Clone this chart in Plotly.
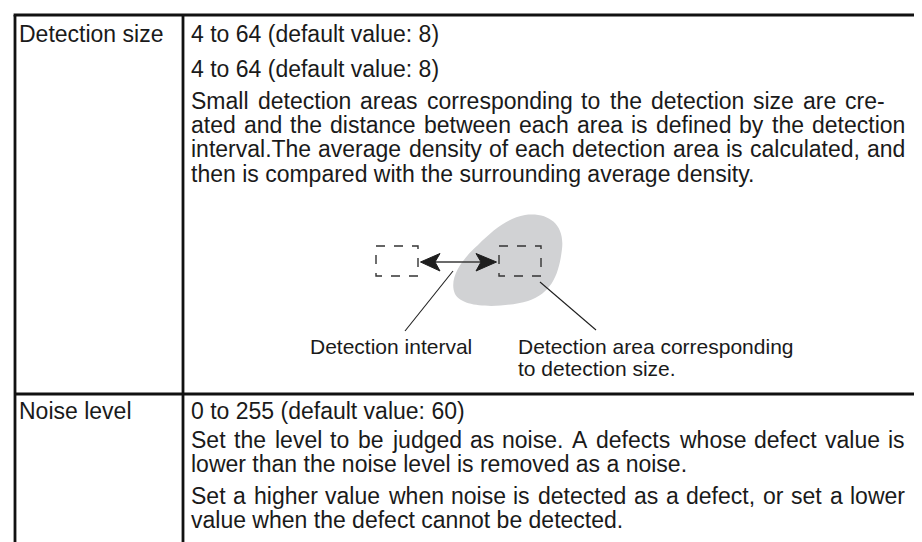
import plotly.graph_objects as go

# ---- table content (text data) ----
param_names = ["Detection size", "Noise level"]
detection_lines = [
    "4 to 64 (default value: 8)",
    "4 to 64 (default value: 8)",
    "Small detection areas corresponding to the detection size are cre-",
    "ated and the distance between each area is defined by the detection",
    "interval.The average density of each detection area is calculated, and",
    "then is compared with the surrounding average density.",
]
noise_lines = [
    "0 to 255 (default value: 60)",
    "Set the level to be judged as noise. A defects whose defect value is",
    "lower than the noise level is removed as a noise.",
    "Set a higher value when noise is detected as a defect, or set a lower",
    "value when the defect cannot be detected.",
]
caption_interval = ["Detection interval"]
caption_area = ["Detection area corresponding", "to detection size."]

# ---- layout geometry (pixels in a 922x542 canvas, y downward) ----
W, H = 922, 542
FONT = "Liberation Sans, Arial, Helvetica, sans-serif"
TXT = "#1a1a1a"
MAIN_SIZE = 23
CAP_SIZE = 21

left_x, right_x, top_y = 7, 912, 7
div_x, row_div_y = 175, 386
col1_text_x, col2_text_x = 10, 182

det_label_y = 26
det_line_y = [26, 61, 93, 117, 141, 166]
noise_label_y = 403
noise_line_y = [403, 432, 456, 488, 512]
# justified lines: index -> right edge of the justified text block
det_justify = {2: 876, 3: 896, 4: 896}
noise_justify = {1: 896, 3: 896}

# Arial / Liberation Sans advance widths (1/1000 em)
ADV = {' ': 278, '.': 278, ',': 278, ':': 278, '-': 333, '(': 333, ')': 333}
ADV.update({d: 556 for d in "0123456789"})
ADV.update(dict(zip("ABCDEFGHIJKLMNOPQRSTUVWXYZ",
                    [667, 667, 722, 722, 667, 611, 778, 722, 278, 500, 667, 556, 833,
                     722, 778, 667, 778, 722, 667, 611, 722, 667, 944, 667, 667, 611])))
ADV.update(dict(zip("abcdefghijklmnopqrstuvwxyz",
                    [556, 556, 500, 556, 556, 278, 556, 556, 222, 222, 500, 222, 833,
                     556, 556, 556, 556, 333, 500, 278, 556, 500, 722, 500, 500, 500])))


def text_w(s, size):
    return sum(ADV.get(c, 556) for c in s) * size / 1000.0


fig = go.Figure()
shapes = []
annotations = []

border = dict(color="#111111", width=2.8)
# table frame
shapes.append(dict(type="line", x0=left_x - 1.4, x1=right_x + 1.4, y0=top_y, y1=top_y, line=border))
shapes.append(dict(type="line", x0=left_x, x1=left_x, y0=top_y, y1=H + 5, line=border))
shapes.append(dict(type="line", x0=right_x, x1=right_x, y0=top_y, y1=H + 5, line=border))
shapes.append(dict(type="line", x0=div_x, x1=div_x, y0=top_y, y1=H + 5, line=border))
shapes.append(dict(type="line", x0=left_x, x1=right_x, y0=row_div_y, y1=row_div_y, line=border))

# diagram: gray blob
shapes.append(dict(
    type="path",
    path=("M 517,207 C 540,204 557,216 554,241 C 551,266 544,285 520,293 "
          "C 495,300 455,301 447,286 C 440,270 455,250 470,237 "
          "C 485,222 500,210 517,207 Z"),
    fillcolor="#d1d2d4", line=dict(width=0), layer="below"))

dash = dict(color="#333333", width=1.4, dash="dash")
shapes.append(dict(type="rect", x0=368, x1=410, y0=238, y1=268, line=dash))
shapes.append(dict(type="rect", x0=491, x1=533, y0=238, y1=268, line=dash))

# double-headed arrow
shapes.append(dict(type="line", x0=426, x1=473, y0=254, y1=254,
                   line=dict(color="#3a3a3a", width=1.5)))
shapes.append(dict(type="path", path="M 412.5,254 L 432,245.5 L 427,254 L 432,263 Z",
                   fillcolor="#1e1e1e", line=dict(color="#1e1e1e", width=1)))
shapes.append(dict(type="path", path="M 488.5,254 L 468,245.5 L 473,254 L 468,263 Z",
                   fillcolor="#1e1e1e", line=dict(color="#1e1e1e", width=1)))

# leader lines
lead = dict(color="#1e1e1e", width=1.1)
shapes.append(dict(type="line", x0=445, y0=263, x1=397, y1=323, line=lead))
shapes.append(dict(type="line", x0=532, y0=274, x1=588, y1=322, line=lead))


def add_text(x, y, text, size):
    annotations.append(dict(
        x=x, y=y, text=text, showarrow=False, xanchor="left", yanchor="middle",
        xref="x", yref="y", font=dict(family=FONT, size=size, color=TXT),
        align="left", borderpad=0))


def add_line(x0, y, text, size, right=None):
    if right is None:
        add_text(x0, y, text, size)
        return
    words = text.split(" ")
    widths = [text_w(w, size) for w in words]
    gap = (right - x0 - sum(widths)) / max(len(words) - 1, 1)
    x = x0
    for w, wd in zip(words, widths):
        add_text(x, y, w, size)
        x += wd + gap


add_text(col1_text_x, det_label_y, param_names[0], MAIN_SIZE)
add_text(col1_text_x, noise_label_y, param_names[1], MAIN_SIZE)
for i, (t, y) in enumerate(zip(detection_lines, det_line_y)):
    add_line(col2_text_x, y, t, MAIN_SIZE, det_justify.get(i))
for i, (t, y) in enumerate(zip(noise_lines, noise_line_y)):
    add_line(col2_text_x, y, t, MAIN_SIZE, noise_justify.get(i))
add_text(301, 338, caption_interval[0], CAP_SIZE)
for t, y in zip(caption_area, [338, 360]):
    add_text(509, y, t, CAP_SIZE)

fig.update_layout(
    width=W, height=H,
    margin=dict(l=0, r=0, t=0, b=0),
    paper_bgcolor="white", plot_bgcolor="white",
    xaxis=dict(range=[0, W], visible=False, fixedrange=True),
    yaxis=dict(range=[H, 0], visible=False, fixedrange=True),
    shapes=shapes, annotations=annotations, showlegend=False,
)
fig.write_html("out.html")
